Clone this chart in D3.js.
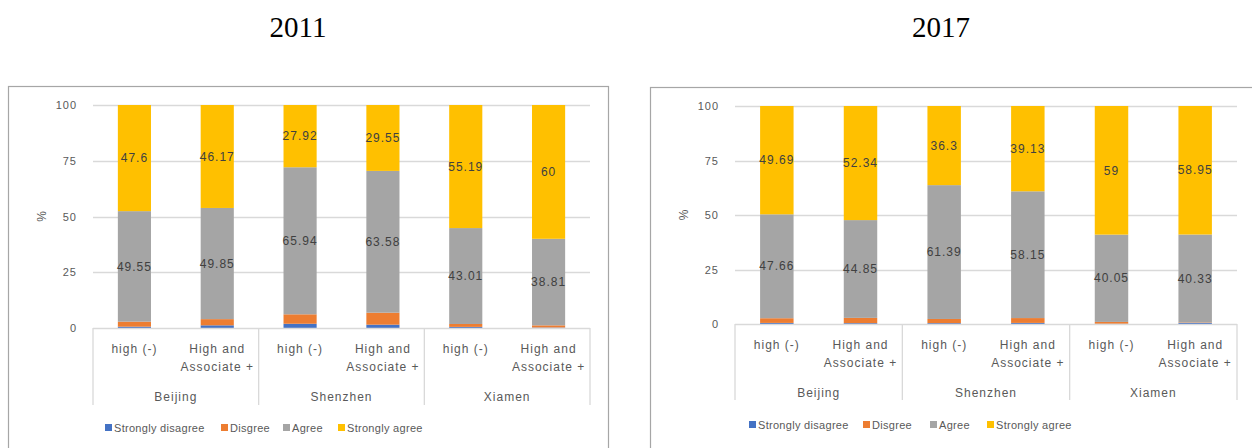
<!DOCTYPE html>
<html>
<head>
<meta charset="utf-8">
<script src="https://cdn.jsdelivr.net/npm/d3@7"></script>
<style>
  html, body { margin: 0; padding: 0; background: #fff; }
  svg { display: block; }
  .lbl { font-family: "Liberation Sans", Arial, sans-serif; fill: #595959; }
</style>
</head>
<body>
<svg id="chart" width="1252" height="448"></svg>
<script>
// Categories
const cities = ["Beijing", "Shenzhen", "Xiamen"];
const levels = ["high (-)", "High and\nAssociate +"];
const seriesNames = ["Strongly disagree", "Disgree", "Agree", "Strongly agree"];
const seriesColors = ["#4472C4", "#ED7D31", "#A5A5A5", "#FFC000"];
const yTicks = [0, 25, 50, 75, 100];

// 2011 values, per bar: Beijing high, Beijing H&A, Shenzhen high, Shenzhen H&A, Xiamen high, Xiamen H&A
const sd2011 = [0.6, 1.2, 1.9, 1.5, 0.5, 0.2];
const d2011 = [2.25, 2.78, 4.24, 5.37, 1.3, 0.99];
const agree2011 = [49.55, 49.85, 65.94, 63.58, 43.01, 38.81];
const sa2011 = [47.6, 46.17, 27.92, 29.55, 55.19, 60];

// 2017 values
const sd2017 = [0.5, 0.4, 0.4, 0.5, 0.1, 0.5];
const d2017 = [2.15, 2.41, 1.91, 2.22, 0.85, 0.22];
const agree2017 = [47.66, 44.85, 61.39, 58.15, 40.05, 40.33];
const sa2017 = [49.69, 52.34, 36.3, 39.13, 59, 58.95];

const svg = d3.select("#chart");

function drawPanel(opt) {
  const g = svg.append("g");
  const bars = [];
  cities.forEach((c, ci) => levels.forEach((l, li) => bars.push({ city: c, level: l, key: c + "|" + l })));
  const rows = bars.map((b, i) => ({
    key: b.key,
    "Strongly disagree": opt.sd[i], "Disgree": opt.d[i], "Agree": opt.agree[i], "Strongly agree": opt.sa[i]
  }));

  // outer frame
  g.append("rect")
    .attr("x", opt.frame[0] + 0.5).attr("y", opt.frame[1] + 0.5)
    .attr("width", opt.frame[2]).attr("height", opt.frame[3])
    .attr("fill", "none").attr("stroke", "#a6a6a6").attr("stroke-width", 1.2);

  // title
  svg.append("text")
    .attr("x", opt.titleX).attr("y", 37)
    .attr("text-anchor", "middle")
    .style("font-family", "'Liberation Serif', 'Times New Roman', serif")
    .style("font-size", "29px").style("fill", "#000")
    .text(opt.title);

  const x = d3.scaleBand().domain(bars.map(b => b.key)).range([opt.x0, opt.x1]).paddingInner(0.6).paddingOuter(0.3);
  const y = d3.scaleLinear().domain([0, 100]).range([opt.yBottom, opt.yTop]);

  // gridlines
  g.append("g").selectAll("line").data(yTicks.filter(t => t > 0)).join("line")
    .attr("x1", opt.x0).attr("x2", opt.x1)
    .attr("y1", d => Math.round(y(d)) + 0.5).attr("y2", d => Math.round(y(d)) + 0.5)
    .attr("stroke", "#d9d9d9").attr("stroke-width", 1.3);

  // y tick labels
  const yAxis = d3.axisLeft(y).tickValues(yTicks).tickSize(0).tickPadding(0);
  const ya = g.append("g").attr("transform", `translate(${opt.x0 - 16},0)`).call(yAxis);
  ya.select(".domain").remove();
  ya.selectAll("text").attr("class", "lbl").style("font-size", "11px").style("letter-spacing", "1px")
    .style("font-family", "'Liberation Sans', Arial, sans-serif").attr("fill", "#595959");

  // y title
  g.append("text").attr("class", "lbl")
    .attr("transform", `translate(${opt.x0 - 51},${(opt.yTop + opt.yBottom) / 2}) rotate(-90)`)
    .attr("text-anchor", "middle").attr("dy", "0.35em")
    .style("font-size", "12px").text("%");

  // stacked bars
  const stack = d3.stack().keys(seriesNames)(rows);
  const color = d3.scaleOrdinal().domain(seriesNames).range(seriesColors);
  g.append("g").selectAll("g").data(stack).join("g")
    .attr("fill", d => color(d.key))
    .selectAll("rect").data(d => d).join("rect")
    .attr("x", d => x(d.data.key))
    .attr("width", x.bandwidth())
    .attr("y", d => y(d[1]))
    .attr("height", d => y(d[0]) - y(d[1]));

  // value labels for Agree and Strongly agree
  stack.filter(s => s.key === "Agree" || s.key === "Strongly agree").forEach(s => {
    g.append("g").selectAll("text").data(s).join("text")
      .attr("x", d => x(d.data.key) + x.bandwidth() / 2)
      .attr("y", d => y((d[0] + d[1]) / 2))
      .attr("dy", "0.35em").attr("text-anchor", "middle")
      .style("font-family", "'Liberation Sans', Arial, sans-serif")
      .style("font-size", "12px").style("letter-spacing", "1px")
      .attr("fill", "#404040")
      .text(d => d.data[s.key]);
  });

  // category axis line
  g.append("line").attr("x1", opt.x0).attr("x2", opt.x1)
    .attr("y1", opt.yBottom + 0.5).attr("y2", opt.yBottom + 0.5)
    .attr("stroke", "#d9d9d9").attr("stroke-width", 1.3);

  // group separators
  const groupW = (opt.x1 - opt.x0) / cities.length;
  g.append("g").selectAll("line").data(d3.range(cities.length + 1)).join("line")
    .attr("x1", i => opt.x0 + i * groupW).attr("x2", i => opt.x0 + i * groupW)
    .attr("y1", opt.yBottom).attr("y2", opt.sepBottom)
    .attr("stroke", "#d9d9d9").attr("stroke-width", 1.3);

  // inner category labels
  const lab = g.append("g").selectAll("text").data(bars).join("text").attr("class", "lbl")
    .attr("text-anchor", "middle")
    .style("font-size", "12px").style("letter-spacing", "1px")
    .attr("transform", d => `translate(${x(d.key) + x.bandwidth() / 2},${opt.catY})`);
  lab.selectAll("tspan").data(d => d.level.split("\n")).join("tspan")
    .attr("x", 0).attr("dy", (t, i) => i === 0 ? "0.35em" : "1.5em").text(t => t);

  // city labels
  g.append("g").selectAll("text").data(cities).join("text").attr("class", "lbl")
    .attr("x", (c, i) => opt.x0 + (i + 0.5) * groupW).attr("y", opt.cityY)
    .attr("dy", "0.35em").attr("text-anchor", "middle")
    .style("font-size", "12px").style("letter-spacing", "1px")
    .text(c => c);

  // legend
  const leg = g.append("g").selectAll("g").data(seriesNames).join("g")
    .attr("transform", (s, i) => `translate(${opt.legX[i]},${opt.legY})`);
  leg.append("rect").attr("x", 0).attr("y", -4).attr("width", 7).attr("height", 7).attr("fill", s => color(s));
  leg.append("text").attr("class", "lbl").attr("x", 9).attr("dy", "0.35em")
    .style("font-size", "11px").style("letter-spacing", "0.3px").text(s => s);
}

drawPanel({
  title: "2011", titleX: 298,
  frame: [8, 86, 600, 380],
  x0: 93, x1: 590, yTop: 105, yBottom: 328, sepBottom: 405,
  catY: 349, cityY: 397, legY: 428, legX: [105, 221, 283, 338],
  sd: sd2011, d: d2011, agree: agree2011, sa: sa2011
});

drawPanel({
  title: "2017", titleX: 941,
  frame: [650, 87, 620, 380],
  x0: 735, x1: 1237, yTop: 106, yBottom: 324, sepBottom: 400,
  catY: 345, cityY: 393, legY: 425, legX: [749, 863, 930, 987],
  sd: sd2017, d: d2017, agree: agree2017, sa: sa2017
});
</script>
</body>
</html>
